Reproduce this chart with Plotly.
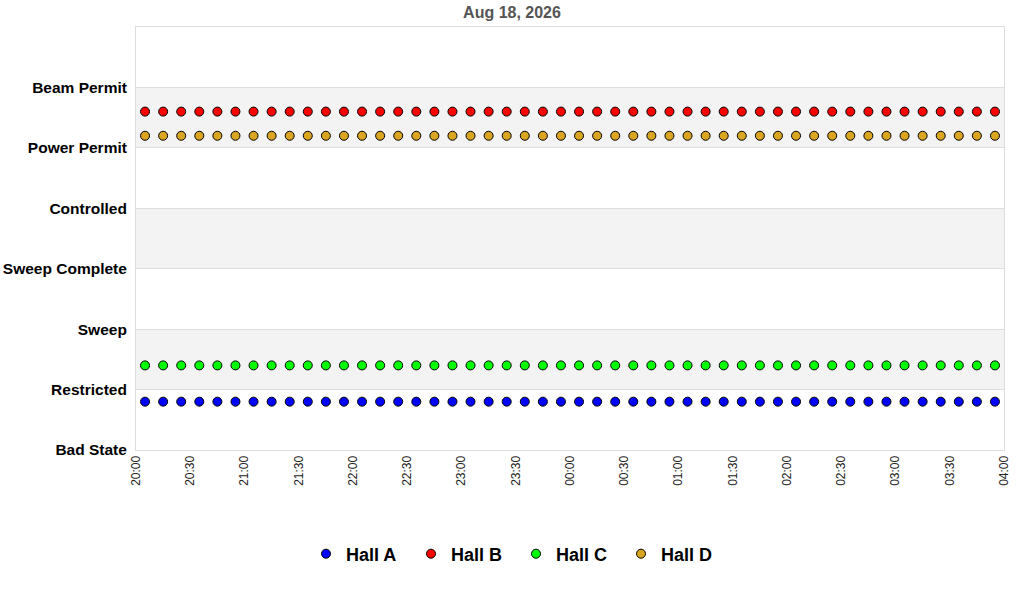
import plotly.graph_objects as go
import pandas as pd

# Data
times = pd.date_range("2026-08-18 20:05", "2026-08-19 03:55", freq="10min")
hall_a = [0.8, 0.8, 0.8, 0.8, 0.8, 0.8, 0.8, 0.8, 0.8, 0.8, 0.8, 0.8,
          0.8, 0.8, 0.8, 0.8, 0.8, 0.8, 0.8, 0.8, 0.8, 0.8, 0.8, 0.8,
          0.8, 0.8, 0.8, 0.8, 0.8, 0.8, 0.8, 0.8, 0.8, 0.8, 0.8, 0.8,
          0.8, 0.8, 0.8, 0.8, 0.8, 0.8, 0.8, 0.8, 0.8, 0.8, 0.8, 0.8]
hall_b = [5.6, 5.6, 5.6, 5.6, 5.6, 5.6, 5.6, 5.6, 5.6, 5.6, 5.6, 5.6,
          5.6, 5.6, 5.6, 5.6, 5.6, 5.6, 5.6, 5.6, 5.6, 5.6, 5.6, 5.6,
          5.6, 5.6, 5.6, 5.6, 5.6, 5.6, 5.6, 5.6, 5.6, 5.6, 5.6, 5.6,
          5.6, 5.6, 5.6, 5.6, 5.6, 5.6, 5.6, 5.6, 5.6, 5.6, 5.6, 5.6]
hall_c = [1.4, 1.4, 1.4, 1.4, 1.4, 1.4, 1.4, 1.4, 1.4, 1.4, 1.4, 1.4,
          1.4, 1.4, 1.4, 1.4, 1.4, 1.4, 1.4, 1.4, 1.4, 1.4, 1.4, 1.4,
          1.4, 1.4, 1.4, 1.4, 1.4, 1.4, 1.4, 1.4, 1.4, 1.4, 1.4, 1.4,
          1.4, 1.4, 1.4, 1.4, 1.4, 1.4, 1.4, 1.4, 1.4, 1.4, 1.4, 1.4]
hall_d = [5.2, 5.2, 5.2, 5.2, 5.2, 5.2, 5.2, 5.2, 5.2, 5.2, 5.2, 5.2,
          5.2, 5.2, 5.2, 5.2, 5.2, 5.2, 5.2, 5.2, 5.2, 5.2, 5.2, 5.2,
          5.2, 5.2, 5.2, 5.2, 5.2, 5.2, 5.2, 5.2, 5.2, 5.2, 5.2, 5.2,
          5.2, 5.2, 5.2, 5.2, 5.2, 5.2, 5.2, 5.2, 5.2, 5.2, 5.2, 5.2]
state_labels = ["Bad State", "Restricted", "Sweep", "Sweep Complete",
                "Controlled", "Power Permit", "Beam Permit"]
state_values = [0, 1, 2, 3, 4, 5, 6]
band_ranges = [(1, 2), (3, 4), (5, 6)]

series = [
    ("Hall A", hall_a, "#0000FF"),
    ("Hall B", hall_b, "#FF0000"),
    ("Hall C", hall_c, "#00FF00"),
    ("Hall D", hall_d, "#DAA520"),
]

fig = go.Figure()
for name, vals, color in series:
    fig.add_trace(go.Scatter(
        x=times, y=vals, name=name, mode="markers",
        marker=dict(symbol="circle", size=9, color=color,
                    line=dict(color="#000000", width=1)),
    ))

shapes = []
for lo, hi in band_ranges:
    shapes.append(dict(type="rect", xref="paper", yref="y", x0=0, x1=1,
                       y0=lo, y1=hi, fillcolor="#F3F3F3", line_width=0,
                       layer="below"))

fig.update_layout(
    width=1024, height=600,
    paper_bgcolor="white", plot_bgcolor="white",
    margin=dict(l=136, r=20, t=27, b=150),
    font=dict(family="Liberation Sans, Arial, sans-serif", color="#000"),
    title=dict(text="<b>Aug 18, 2026</b>", x=512 / 1024, xref="container",
               xanchor="center",
               y=1 - 12 / 600, yanchor="middle",
               font=dict(size=16, color="#555555")),
    shapes=shapes,
    showlegend=True,
    legend=dict(orientation="h", xref="container", yref="container",
                x=516 / 1024, xanchor="center", y=1 - 554 / 600,
                yanchor="middle",
                font=dict(size=18, color="#000", weight="bold"),
                entrywidth=60, entrywidthmode="pixels"),
    xaxis=dict(
        range=["2026-08-18 20:00", "2026-08-19 04:00"],
        tickformat="%H:%M", dtick=30 * 60 * 1000,
        tick0="2026-08-18 20:00", tickangle=-90,
        showgrid=False, zeroline=False, automargin=False,
        showline=True, linecolor="#DDDDDD", mirror=True,
        ticks="", tickfont=dict(size=12, color="#222222"),
    ),
    yaxis=dict(
        range=[0, 7], tickvals=state_values, ticktext=state_labels,
        showgrid=True, gridcolor="#DDDDDD", zeroline=False, automargin=False,
        showline=True, linecolor="#DDDDDD", mirror=True,
        ticks="", ticklabelstandoff=5,
        tickfont=dict(size=15.5, color="#000", weight="bold"),
    ),
)

fig.write_html("out.html",
               config={"displayModeBar": False},
               post_script="document.body.style.margin='0';")
